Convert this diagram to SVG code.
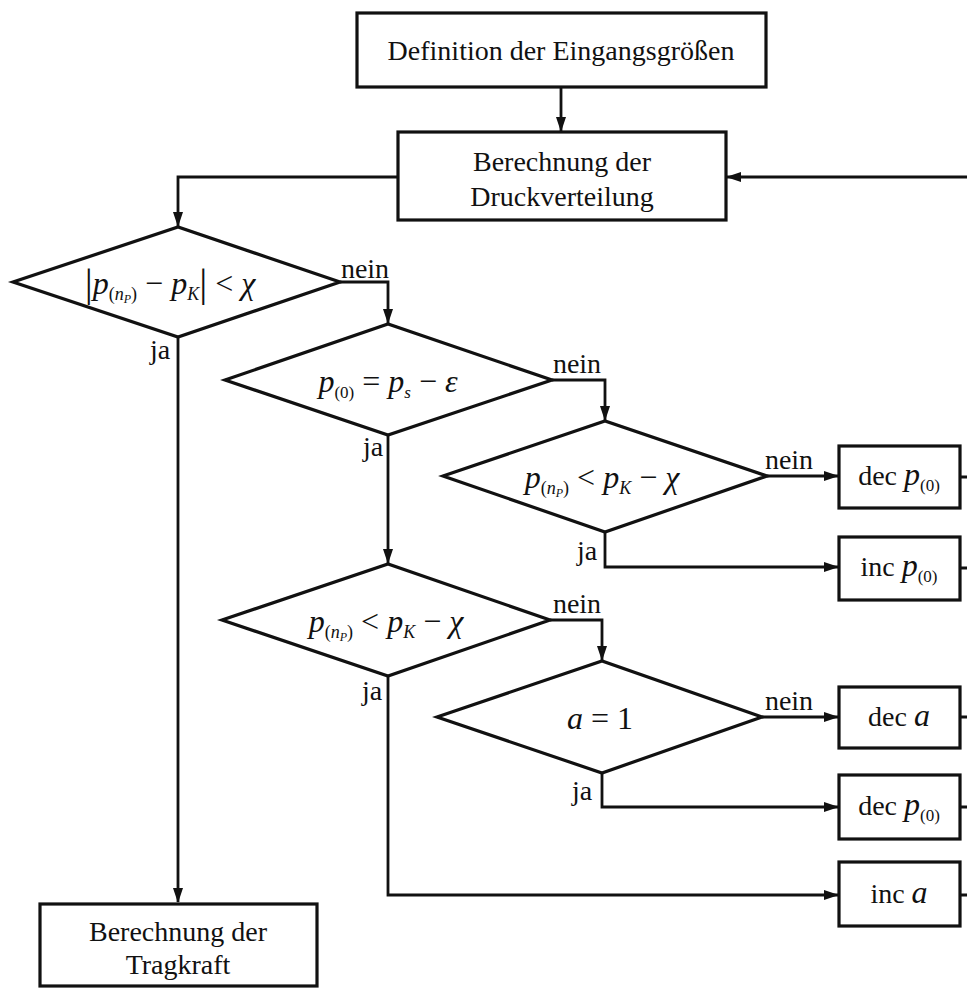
<svg xmlns="http://www.w3.org/2000/svg" width="967" height="991" viewBox="0 0 967 991">
<style>
text{font-family:"Liberation Serif","Times New Roman",serif;font-size:28px;fill:#111;}
.m{font-size:32px;}
.i{font-style:italic;}
.box{fill:#fff;stroke:#111;stroke-width:3.2;}
.dia{fill:#fff;stroke:#111;stroke-width:3.2;stroke-linejoin:miter;}
.c{fill:none;stroke:#111;stroke-width:2.8;}
.ca{fill:none;stroke:#111;stroke-width:2.8;marker-end:url(#ah);}
</style>
<defs>
<marker id="ah" markerWidth="15" markerHeight="10" refX="14" refY="5" orient="auto" markerUnits="userSpaceOnUse"><path d="M0,0 L15,5 L0,10 z" fill="#111"/></marker>
</defs>
<rect width="967" height="991" fill="#fff"/>
<g id="connectors">
<path class="ca" d="M561,87 V131"/>
<path class="ca" d="M967,177 H727"/>
<path class="ca" d="M398,177 H178 V226"/>
<path class="ca" d="M178,337 V902"/>
<path class="ca" d="M340,282 H388 V323"/>
<path class="ca" d="M388,435 V563"/>
<path class="ca" d="M552,380 H605 V420"/>
<path class="ca" d="M767,476 H838"/>
<path class="ca" d="M605,532 V567 H838"/>
<path class="ca" d="M550,620 H602 V660"/>
<path class="ca" d="M388,676 V895 H838"/>
<path class="ca" d="M762,717 H838"/>
<path class="ca" d="M602,773 V807 H838"/>
<path class="c" d="M960,477 H967 M960,568 H967 M960,717 H967 M960,807 H967 M960,895 H967"/>
<text x="365" y="278" text-anchor="middle">nein</text>
<text x="160" y="359" text-anchor="middle">ja</text>
<text x="577" y="373" text-anchor="middle">nein</text>
<text x="373" y="456" text-anchor="middle">ja</text>
<text x="789" y="469" text-anchor="middle">nein</text>
<text x="587" y="560" text-anchor="middle">ja</text>
<text x="577" y="613" text-anchor="middle">nein</text>
<text x="372" y="700" text-anchor="middle">ja</text>
<text x="789" y="710" text-anchor="middle">nein</text>
<text x="582" y="800" text-anchor="middle">ja</text>
</g>
<g id="n-definition">
<rect class="box" x="357" y="13" width="409" height="74"/>
<text x="561" y="60" text-anchor="middle">Definition der Eingangsgrößen</text>
</g>
<g id="n-druck">
<rect class="box" x="398" y="132" width="328" height="88"/>
<text x="562" y="171" text-anchor="middle">Berechnung der</text>
<text x="562" y="206" text-anchor="middle">Druckverteilung</text>
</g>
<g id="n-d1">
<polygon class="dia" points="13,282 178,227 340,282 178,337"/>
<text class="m" x="170" y="294" text-anchor="middle"><tspan font-size="40" dy="2">|</tspan><tspan class="i" dy="-2">p</tspan><tspan font-size="18" dy="6">(</tspan><tspan class="i" font-size="18">n</tspan><tspan class="i" font-size="12" dy="3">P</tspan><tspan font-size="18" dy="-3">)</tspan><tspan dy="-6"> − </tspan><tspan class="i">p</tspan><tspan class="i" font-size="18" dy="6">K</tspan><tspan font-size="40" dy="-4">|</tspan><tspan dy="-2"> &lt; </tspan><tspan class="i">χ</tspan></text>
</g>
<g id="n-d2">
<polygon class="dia" points="225,380 388,324 552,380 388,435"/>
<text class="m" x="388" y="392" text-anchor="middle"><tspan class="i">p</tspan><tspan font-size="17" dy="6">(0)</tspan><tspan dy="-6"> = </tspan><tspan class="i">p</tspan><tspan class="i" font-size="17" dy="6">s</tspan><tspan dy="-6"> − </tspan><tspan class="i">ε</tspan></text>
</g>
<g id="n-d3">
<polygon class="dia" points="443,476 605,421 767,476 605,532"/>
<text class="m" x="602" y="488" text-anchor="middle"><tspan class="i">p</tspan><tspan font-size="18" dy="6">(</tspan><tspan class="i" font-size="18">n</tspan><tspan class="i" font-size="12" dy="3">P</tspan><tspan font-size="18" dy="-3">)</tspan><tspan dy="-6"> &lt; </tspan><tspan class="i">p</tspan><tspan class="i" font-size="18" dy="6">K</tspan><tspan dy="-6"> − </tspan><tspan class="i">χ</tspan></text>
</g>
<g id="n-d4">
<polygon class="dia" points="222,620 388,564 550,620 388,676"/>
<text class="m" x="386" y="632" text-anchor="middle"><tspan class="i">p</tspan><tspan font-size="18" dy="6">(</tspan><tspan class="i" font-size="18">n</tspan><tspan class="i" font-size="12" dy="3">P</tspan><tspan font-size="18" dy="-3">)</tspan><tspan dy="-6"> &lt; </tspan><tspan class="i">p</tspan><tspan class="i" font-size="18" dy="6">K</tspan><tspan dy="-6"> − </tspan><tspan class="i">χ</tspan></text>
</g>
<g id="n-d5">
<polygon class="dia" points="437,717 602,661 762,717 602,773"/>
<text class="m" x="600" y="729" text-anchor="middle"><tspan class="i">a</tspan><tspan> = 1</tspan></text>
</g>
<g id="n-decp1">
<rect class="box" x="839" y="446" width="121" height="62"/>
<text x="899" y="485" text-anchor="middle">dec <tspan class="i" font-size="32">p</tspan><tspan font-size="17" dy="6">(0)</tspan></text>
</g>
<g id="n-incp">
<rect class="box" x="839" y="537" width="121" height="63"/>
<text x="899" y="576" text-anchor="middle">inc <tspan class="i" font-size="32">p</tspan><tspan font-size="17" dy="6">(0)</tspan></text>
</g>
<g id="n-deca">
<rect class="box" x="839" y="687" width="121" height="61"/>
<text x="899" y="726" text-anchor="middle">dec <tspan class="i" font-size="32">a</tspan></text>
</g>
<g id="n-decp2">
<rect class="box" x="839" y="775" width="121" height="64"/>
<text x="899" y="815" text-anchor="middle">dec <tspan class="i" font-size="32">p</tspan><tspan font-size="17" dy="6">(0)</tspan></text>
</g>
<g id="n-inca">
<rect class="box" x="839" y="862" width="121" height="64"/>
<text x="899" y="903" text-anchor="middle">inc <tspan class="i" font-size="32">a</tspan></text>
</g>
<g id="n-tragkraft">
<rect class="box" x="40" y="904" width="277" height="82"/>
<text x="178" y="941" text-anchor="middle">Berechnung der</text>
<text x="178" y="974" text-anchor="middle">Tragkraft</text>
</g>
</svg>
